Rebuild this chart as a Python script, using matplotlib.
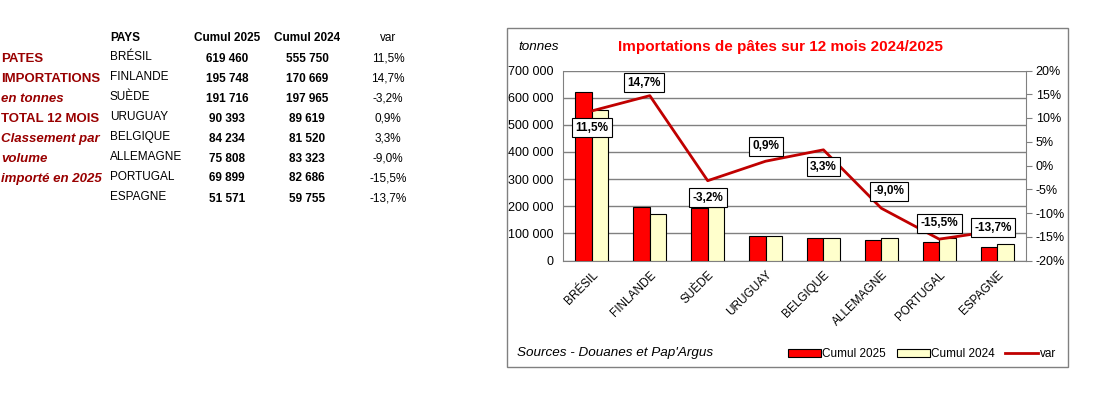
import matplotlib
matplotlib.use("Agg")
import matplotlib.pyplot as plt
from matplotlib.patches import Rectangle
from matplotlib.lines import Line2D
import numpy as np

plt.rcParams['font.family'] = ['Liberation Sans', 'DejaVu Sans']

# data
pays = ['BRÉSIL', 'FINLANDE', 'SUÈDE', 'URUGUAY', 'BELGIQUE', 'ALLEMAGNE', 'PORTUGAL', 'ESPAGNE']
cumul_2025 = [619460, 195748, 191716, 90393, 84234, 75808, 69899, 51571]
cumul_2024 = [555750, 170669, 197965, 89619, 81520, 83323, 82686, 59755]
var = [11.5, 14.7, -3.2, 0.9, 3.3, -9.0, -15.5, -13.7]
left_notes = ['PATES', 'IMPORTATIONS', 'en tonnes', 'TOTAL 12 MOIS',
              'Classement par', 'volume', 'importé en 2025']
note_italic = [False, False, True, False, True, True, True]

# label offsets (pixels) for the var boxes
lab_dx = [0, -6, 0, 0, 0, 8, 0, -4]
lab_dy = [-17, 13, -17, 15, -17, 17, 16, 3]


def fmt_int(v):
    return f"{v:,}".replace(",", " ")


def fmt_pct(v):
    return f"{v:.1f}".replace(".", ",") + "%"


W, H = 1098, 394
fig = plt.figure(figsize=(W / 100, H / 100), dpi=100)


def fx(x):
    return x / W


def fy(y):
    return 1 - y / H


dark_red = '#990000'

# ---- left table ----
for i, (t, it) in enumerate(zip(left_notes, note_italic)):
    fig.text(fx(1), fy(59 + 20 * i), t, color=dark_red, fontsize=9.5, fontweight='bold',
             style='italic' if it else 'normal', va='center', ha='left')

fig.text(fx(110), fy(38), 'PAYS', fontsize=8.5, fontweight='bold', va='center')
fig.text(fx(227), fy(38), 'Cumul 2025', fontsize=8.5, fontweight='bold', va='center', ha='center')
fig.text(fx(307), fy(38), 'Cumul 2024', fontsize=8.5, fontweight='bold', va='center', ha='center')
fig.text(fx(388), fy(38), 'var', fontsize=8.5, va='center', ha='center')
for i, p in enumerate(pays):
    y = 57 + 20 * i
    fig.text(fx(110), fy(y), p, fontsize=8.5, va='center')
    fig.text(fx(227), fy(y + 1.5), fmt_int(cumul_2025[i]), fontsize=8.5, fontweight='bold',
             va='center', ha='center')
    fig.text(fx(307), fy(y + 1.5), fmt_int(cumul_2024[i]), fontsize=8.5, fontweight='bold',
             va='center', ha='center')
    fig.text(fx(388), fy(y + 1.5), fmt_pct(var[i]), fontsize=8.5, va='center', ha='center')

# ---- chart frame ----
fig.patches.append(Rectangle((fx(507), fy(367)), fx(1068 - 507), (367 - 28) / H,
                             transform=fig.transFigure, fill=False, edgecolor='#808080', lw=1))

ax = fig.add_axes([fx(563), fy(260.5), fx(1026 - 563), (260.5 - 70.5) / H])
x = np.arange(len(pays))
bw = 0.285
ax.bar(x - bw / 2, cumul_2025, bw, color='#FF0000', edgecolor='black', lw=0.8, zorder=3)
ax.bar(x + bw / 2, cumul_2024, bw, color='#FFFFCC', edgecolor='black', lw=0.8, zorder=3)
ax.set_xlim(-0.5, len(pays) - 0.5)
ax.set_ylim(0, 700000)
ax.set_yticks(np.arange(0, 700001, 100000))
ax.set_yticklabels([fmt_int(v) for v in range(0, 700001, 100000)], fontsize=9)
ax.yaxis.grid(True, color='#808080', lw=1, zorder=0)
ax.tick_params(axis='y', length=0, pad=7)
ax.set_xticks(x)
ax.set_xticklabels(pays, rotation=45, ha='right', rotation_mode='anchor', fontsize=8.5)
ax.tick_params(axis='x', length=0, pad=6)
for s in ['left', 'bottom']:
    ax.spines[s].set_color('#808080')
ax.spines['top'].set_visible(False)
ax.spines['right'].set_visible(False)

ax2 = ax.twinx()
ax2.plot(x, var, color='#C00000', lw=2, zorder=4)
ax2.set_ylim(-20, 20)
ax2.set_yticks(np.arange(-20, 21, 5))
ax2.set_yticklabels([f"{v}%" for v in range(-20, 21, 5)], fontsize=9)
ax2.tick_params(axis='y', length=4, color='#808080', direction='out', pad=3)
ax2.spines['right'].set_color('#808080')
for s in ['left', 'top', 'bottom']:
    ax2.spines[s].set_visible(False)
for i, v in enumerate(var):
    ax2.annotate(fmt_pct(v), (x[i], v), xytext=(lab_dx[i], lab_dy[i]), textcoords='offset pixels',
                 ha='center', va='center', fontsize=8.5, fontweight='bold', zorder=6,
                 bbox=dict(boxstyle='square,pad=0.3', fc='white', ec='black', lw=0.8))

# titles
fig.text(fx(780), fy(47), 'Importations de pâtes sur 12 mois 2024/2025', color='#FF0000',
         fontsize=11, fontweight='bold', ha='center', va='center')
fig.text(fx(518), fy(47), 'tonnes', fontsize=9.7, style='italic', va='center')
fig.text(fx(517), fy(353), "Sources - Douanes et Pap'Argus", fontsize=9.7, style='italic', va='center')

# legend
handles = [Rectangle((0, 0), 1, 1, fc='#FF0000', ec='black', lw=0.8),
           Rectangle((0, 0), 1, 1, fc='#FFFFCC', ec='black', lw=0.8),
           Line2D([0], [0], color='#C00000', lw=2)]
fig.legend(handles, ['Cumul 2025', 'Cumul 2024', 'var'], loc='center',
           bbox_to_anchor=(fx(922), fy(354)), ncol=3, frameon=False, fontsize=8.5,
           handlelength=2.8, handleheight=0.6, handletextpad=0.1, columnspacing=0.9)

fig.savefig('out.png', dpi=100)
